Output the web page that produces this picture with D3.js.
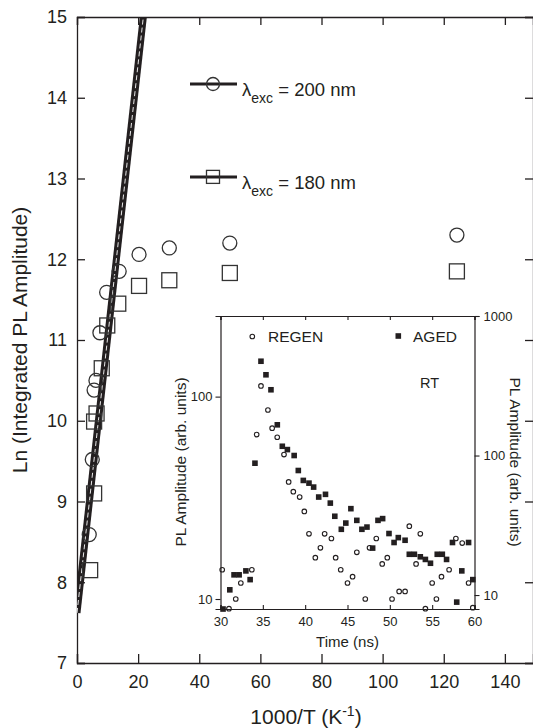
<!DOCTYPE html>
<html><head><meta charset="utf-8">
<script src="https://cdn.jsdelivr.net/npm/d3@7"></script>
<style>
html,body{margin:0;padding:0;background:#fff;}
svg{display:block;font-family:"Liberation Sans",Arial,Helvetica,sans-serif;}
</style></head>
<body><svg id="c" width="533" height="728"></svg>
<script>
// ---------- main chart data ----------
const xTicksMain = [0, 20, 40, 60, 80, 100, 120, 140];
const yTicksMain = [7, 8, 9, 10, 11, 12, 13, 14, 15];
const invT200 = [4.0, 5.0, 5.6, 6.2, 7.5, 9.7, 13.8, 20.3, 30.2, 50, 124.3];
const lnPL200 = [8.59, 9.52, 10.38, 10.50, 11.09, 11.59, 11.85, 12.06, 12.14, 12.20, 12.30];
const invT180 = [4.3, 5.6, 5.6, 6.4, 8.1, 9.9, 13.5, 20.3, 30.2, 50, 124.3];
const lnPL180 = [8.15, 9.10, 9.99, 10.09, 10.65, 11.18, 11.45, 11.67, 11.74, 11.83, 11.85];
const fitX = [0, 21.7];
const fitY = [7.62, 15];
const legendLabels = ["200 nm", "180 nm"];
const legendY = [14.17, 13.02];

// ---------- inset data ----------
const xTicksInset = [30, 35, 40, 45, 50, 55, 60];
const yTicksInsetLeft = [10, 100];
const yTicksInsetRight = [10, 100, 1000];
const timeRegen = [30.2, 31.0, 31.8, 32.4, 33.7, 34.27, 34.78, 35.6, 36.1, 36.7, 37.5, 38.05, 38.6, 39.35, 39.9, 40.45, 41.2, 41.8, 42.3, 43.1, 43.6, 44.2, 45.0, 45.6, 46.1, 47.1, 47.6, 48.4, 49.1, 49.7, 50.26, 51.1, 51.8, 52.3, 53.1, 53.6, 54.2, 55.0, 55.5, 56.1, 57.0, 57.8, 58.55, 59.3, 59.8];
const plRegen = [13.95, 8.96, 10.0, 12.0, 13.95, 64.9, 112.9, 85.9, 69.8, 63.0, 51.7, 37.9, 33.9, 31.9, 27.1, 21.0, 16.0, 17.9, 21.0, 19.9, 16.0, 13.95, 12.0, 12.9, 17.0, 10.0, 17.9, 19.9, 14.9, 16.0, 10.0, 10.9, 10.9, 22.9, 14.9, 21.0, 8.96, 12.0, 10.0, 12.9, 13.95, 19.9, 18.9, 12.0, 9.06];
const timeAged = [30.3, 31.1, 31.6, 32.2, 33.0, 33.5, 34.07, 34.78, 35.37, 35.96, 36.71, 37.3, 37.9, 38.7, 39.19, 39.78, 40.45, 41.0, 41.6, 42.4, 42.97, 43.5, 44.27, 44.8, 45.4, 46.1, 46.7, 47.3, 47.97, 48.6, 49.15, 49.9, 50.5, 51.0, 51.8, 52.3, 52.9, 53.6, 54.2, 54.8, 55.6, 56.2, 56.7, 57.4, 57.9, 58.5, 59.3, 59.8];
const plAged = [7.94, 10.9, 13.96, 13.96, 14.9, 12.9, 88.1, 474, 379, 296, 166, 116.5, 110.3, 100, 78.1, 66.3, 63.4, 59.4, 50.4, 52.7, 45.6, 36.7, 29.6, 32.8, 41.6, 34.3, 29.6, 30.7, 21.7, 34.3, 35.3, 27.6, 23.8, 25.8, 24.7, 19.6, 19.6, 18.8, 18.0, 16.9, 19.6, 19.6, 18.0, 23.8, 8.9, 14.9, 23.8, 12.9];
const insetLegend = ["REGEN", "AGED"];

const INK = "#231f20";
const svg = d3.select("#c");

// ---------- main scales ----------
const x = d3.scaleLinear().domain([0, 149.2]).range([77, 533]);
const y = d3.scaleLinear().domain([7, 15]).range([663, 17]);
const L = 77, R = 533, T = 17, B = 663;

const gMain = svg.append("g");
svg.append("defs").append("clipPath").attr("id", "clipMain")
  .append("rect").attr("x", L).attr("y", T).attr("width", R - L).attr("height", B - T);

const axB = d3.axisBottom(x).tickValues(xTicksMain).tickSize(-9).tickPadding(12).tickFormat(d3.format("d"));
const axT = d3.axisTop(x).tickValues(xTicksMain).tickSize(-8).tickFormat("");
const axLf = d3.axisLeft(y).tickValues(yTicksMain).tickSize(-8).tickPadding(10).tickFormat(d3.format("d"));
const axRt = d3.axisRight(y).tickValues(yTicksMain).tickSize(-8).tickFormat("");
function styleAxis(g, fs) {
  g.select(".domain").attr("stroke", INK).attr("stroke-width", 1.3);
  g.selectAll(".tick line").attr("stroke", INK).attr("stroke-width", 1.3);
  g.selectAll(".tick text").attr("fill", INK).attr("font-size", fs)
    .attr("font-family", '"Liberation Sans",Arial,sans-serif');
}
gMain.append("g").attr("transform", `translate(0,${B})`).call(axB).call(g => styleAxis(g, 18));
gMain.append("g").attr("transform", `translate(0,${T})`).call(axT).call(g => styleAxis(g, 18));
gMain.append("g").attr("transform", `translate(${L},0)`).call(axLf).call(g => styleAxis(g, 18));
gMain.append("g").attr("transform", `translate(${R},0)`).call(axRt).call(g => styleAxis(g, 18));

gMain.append("text").attr("x", 306).attr("y", 724).attr("text-anchor", "middle")
  .attr("font-size", 21).attr("fill", INK)
  .html('1000/T (K<tspan dy="-8" font-size="14">-1</tspan><tspan dy="8">)</tspan>');
gMain.append("text").attr("transform", "translate(27,340) rotate(-90)").attr("text-anchor", "middle")
  .attr("font-size", 21).attr("fill", INK).text("Ln (Integrated PL Amplitude)");

const fitLine = d3.line().x(d => x(d[0])).y(d => y(d[1]));
const fitPts = fitX.map((v, i) => [v, fitY[i]]);
const gFit = gMain.append("g").attr("clip-path", "url(#clipMain)");
gFit.append("path").attr("d", fitLine(fitPts)).attr("stroke", INK).attr("stroke-width", 7).attr("fill", "none");
gFit.append("path").attr("d", fitLine(fitPts)).attr("stroke", "#fff").attr("stroke-width", 0.9)
  .attr("stroke-dasharray", "5,3").attr("fill", "none");

const MK = "#333";
gMain.append("g").selectAll("circle").data(invT200.map((v, i) => [v, lnPL200[i]])).join("circle")
  .attr("cx", d => x(d[0])).attr("cy", d => y(d[1])).attr("r", 7)
  .attr("fill", "none").attr("stroke", MK).attr("stroke-width", 1.3);
gMain.append("g").selectAll("rect").data(invT180.map((v, i) => [v, lnPL180[i]])).join("rect")
  .attr("x", d => x(d[0]) - 7.5).attr("y", d => y(d[1]) - 7.5).attr("width", 15).attr("height", 15)
  .attr("fill", "none").attr("stroke", MK).attr("stroke-width", 1.3);

legendLabels.forEach((lab, i) => {
  const ly = y(legendY[i]);
  gMain.append("line").attr("x1", 190).attr("x2", 237).attr("y1", ly).attr("y2", ly)
    .attr("stroke", INK).attr("stroke-width", 3);
  if (i === 0) {
    gMain.append("circle").attr("cx", 213).attr("cy", ly).attr("r", 6.5)
      .attr("fill", "none").attr("stroke", MK).attr("stroke-width", 1.3);
  } else {
    gMain.append("rect").attr("x", 213 - 6.5).attr("y", ly - 6.5).attr("width", 13).attr("height", 13)
      .attr("fill", "none").attr("stroke", MK).attr("stroke-width", 1.3);
  }
  gMain.append("text").attr("x", 242).attr("y", ly + 12).attr("font-size", 18.5).attr("fill", INK)
    .html(`λ<tspan dy="7" font-size="14">exc</tspan><tspan dy="-7"> = ${lab}</tspan>`);
});

// ---------- inset ----------
const iL = 220.5, iR = 474.5, iT = 316, iB = 609;
const xi = d3.scaleLinear().domain([30, 60]).range([iL, iR]);
const yiL = d3.scaleLog().domain([10 * Math.pow(10, -10 / 202.6), 10 * Math.pow(10, (599.3 - iT) / 202.6)]).range([iB, iT]);
const yiR = d3.scaleLog().domain([Math.pow(10, 0.9), 1000]).range([iB, iT]);

const gIn = svg.append("g");
gIn.append("rect").attr("x", iL).attr("y", iT).attr("width", iR - iL).attr("height", iB - iT).attr("fill", "#fff");

const aiB = d3.axisBottom(xi).tickValues(xTicksInset).tickSize(-4).tickPadding(8).tickFormat(d3.format("d"));
const aiT = d3.axisTop(xi).tickValues(xTicksInset).tickSize(-4).tickFormat("");
const aiL = d3.axisLeft(yiL).tickValues(yTicksInsetLeft).tickSize(5).tickPadding(3).tickFormat(d3.format("d"));
const aiR = d3.axisRight(yiR).tickValues(yTicksInsetRight).tickSize(5).tickPadding(4).tickFormat(d3.format("d"));
function styleIn(g) {
  g.select(".domain").attr("stroke", INK).attr("stroke-width", 1.2);
  g.selectAll(".tick line").attr("stroke", INK).attr("stroke-width", 1.1);
  g.selectAll(".tick text").attr("fill", INK).attr("font-size", 13)
    .attr("font-family", '"Liberation Sans",Arial,sans-serif');
}
gIn.append("g").attr("transform", `translate(0,${iB})`).call(aiB).call(styleIn);
gIn.append("g").attr("transform", `translate(0,${iT})`).call(aiT).call(styleIn);
gIn.append("g").attr("transform", `translate(${iL},0)`).call(aiL).call(styleIn);
gIn.append("g").attr("transform", `translate(${iR},0)`).call(aiR).call(styleIn);

gIn.append("text").attr("x", (iL + iR) / 2).attr("y", 647).attr("text-anchor", "middle")
  .attr("font-size", 15).attr("fill", INK).text("Time (ns)");
gIn.append("text").attr("transform", "translate(186,462) rotate(-90)").attr("text-anchor", "middle")
  .attr("font-size", 15.5).attr("fill", INK).text("PL Amplitude (arb. units)");
gIn.append("text").attr("transform", "translate(510,462) rotate(90)").attr("text-anchor", "middle")
  .attr("font-size", 15.5).attr("fill", INK).text("PL Amplitude (arb. units)");

gIn.append("g").selectAll("circle").data(timeRegen.map((t, i) => [t, plRegen[i]])).join("circle")
  .attr("cx", d => xi(d[0])).attr("cy", d => yiL(d[1])).attr("r", 2.3)
  .attr("fill", "none").attr("stroke", INK).attr("stroke-width", 1.1);
gIn.append("g").selectAll("rect").data(timeAged.map((t, i) => [t, plAged[i]])).join("rect")
  .attr("x", d => xi(d[0]) - 2.8).attr("y", d => yiR(d[1]) - 2.8).attr("width", 5.6).attr("height", 5.6)
  .attr("fill", INK);

gIn.append("circle").attr("cx", 252.3).attr("cy", 336.5).attr("r", 2.3)
  .attr("fill", "none").attr("stroke", INK).attr("stroke-width", 1.1);
gIn.append("text").attr("x", 268).attr("y", 342).attr("font-size", 15.5).attr("fill", INK).text(insetLegend[0]);
gIn.append("rect").attr("x", 398.3 - 2.8).attr("y", 336 - 2.8).attr("width", 5.6).attr("height", 5.6).attr("fill", INK);
gIn.append("text").attr("x", 413).attr("y", 342).attr("font-size", 15.5).attr("fill", INK).text(insetLegend[1]);
gIn.append("text").attr("x", 420).attr("y", 388).attr("font-size", 14.5).attr("fill", INK).text("RT");
</script></body></html>
